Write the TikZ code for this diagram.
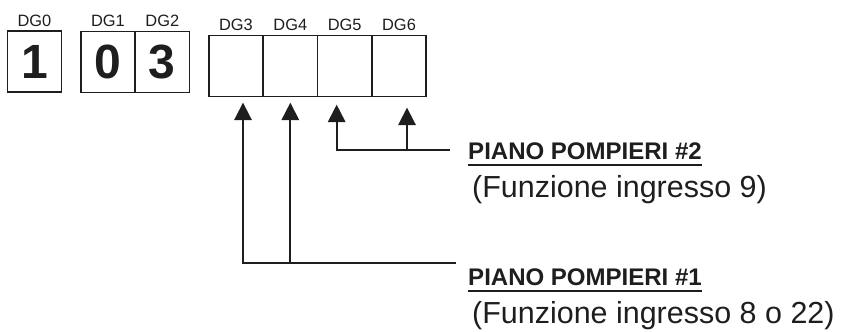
\documentclass[tikz,border=0pt]{standalone}
\usepackage{fontspec}
\setmainfont{Liberation Sans}
\usepackage{tikz}
\usepackage{xcolor}
\definecolor{scanink}{RGB}{30, 30, 30}
\usetikzlibrary{calc,positioning,arrows.meta}

% bold heading with a heavy underline
\newcommand{\ulbold}[1]{\setbox0\hbox{#1}\rlap{\vrule height -4.2pt depth 6.2pt width \wd0}\box0}

\begin{document}
\begin{tikzpicture}[x=0.03cm, y=-0.03cm,
    cell/.style={draw=scanink, text=scanink, line width=1.2pt, outer sep=0pt, inner sep=0pt,
        minimum width=1.63cm, minimum height=1.84cm, font=\fontsize{41}{41}\selectfont\bfseries},
    tag/.style={text=scanink, inner sep=0pt, font=\fontsize{14}{16}\selectfont},
    title/.style={text=scanink, inner sep=0pt, anchor=base west, font=\fontsize{20.5}{24}\selectfont\bfseries},
    note/.style={text=scanink, inner sep=0pt, anchor=base west, font=\fontsize{26}{30}\selectfont},
    feed/.style={draw=scanink, line width=1.5pt, -{Triangle[length=15pt, width=15pt]}}]
    \useasboundingbox (0,0) rectangle (844,331);

    % Display digits
    \node[cell] (dg0) at (34.5,61.5) {1};
    \node[cell] (dg1) at (108,62) {0};
    \node[cell, right=0pt of dg1] (dg2) {3};
    \node[cell] (dg3) at (236,66) {};
    \node[cell, right=0pt of dg3] (dg4) {};
    \node[cell, right=0pt of dg4] (dg5) {};
    \node[cell, right=0pt of dg5] (dg6) {};

    % Digit names
    \node[tag, above=3.5pt of dg0] (t0) {DG0};
    \node[tag, above=3.5pt of dg1] (t1) {DG1};
    \node[tag, above=3.5pt of dg2] (t2) {DG2};
    \node[tag, above=4pt of dg3] (t3) {DG3};
    \node[tag, above=4pt of dg4] (t4) {DG4};
    \node[tag, above=4pt of dg5] (t5) {DG5};
    \node[tag, above=4pt of dg6] (t6) {DG6};

    % Fire-fighter floors
    \node[title] (pp2) at (468,159) {\ulbold{PIANO POMPIERI \#2}};
    \node[note] (fn2) at (472,197) {(Funzione ingresso 9)};
    \node[title] (pp1) at (468,285) {\ulbold{PIANO POMPIERI \#1}};
    \node[note] (fn1) at (472,323) {(Funzione ingresso 8 o 22)};

    % Feeds into the digits
    \coordinate (e2) at ($(pp2.base west)+(-18,-9)$);
    \draw[feed] (e2) -| ($(dg5.south)+(-8,8)$);
    \draw[feed] ($(e2 -| dg6.south)+(8,0)$) -- ($(dg6.south)+(8,11)$);

    \coordinate (e1) at ($(pp1.base west)+(-12,-22)$);
    \draw[feed] (e1) -| ($(dg3.south)+(7,6)$);
    \draw[feed] (e1 -| dg4.south) -- ($(dg4.south)+(0,6)$);
\end{tikzpicture}
\end{document}
